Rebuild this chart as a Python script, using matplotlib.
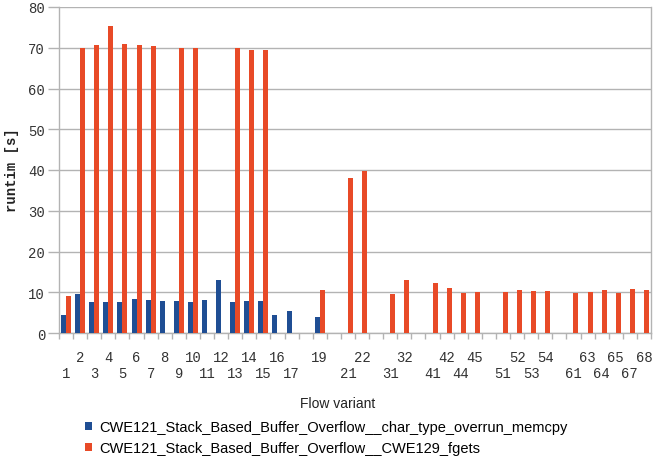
import numpy as np
from matplotlib import pyplot as plt

# flow variants as they appear on the x axis ("" = empty slot)
variants = ["1", "2", "3", "4", "5", "6", "7", "8", "9", "10", "11", "12", "13", "14",
            "15", "16", "17", "", "19", "", "21", "22", "", "31", "32", "", "41", "42",
            "44", "45", "", "51", "52", "53", "54", "", "61", "63", "64", "65", "67", "68"]

nan = np.nan
memcpy = [4.4, 9.6, 7.6, 7.6, 7.6, 8.3, 8.1, 7.9, 7.9, 7.6, 8.1, 13.0, 7.6, 7.9,
          7.9, 4.4, 5.4, nan, 3.9, nan, nan, nan, nan, nan, nan, nan, nan, nan,
          nan, nan, nan, nan, nan, nan, nan, nan, nan, nan, nan, nan, nan, nan]
fgets = [9.1, 70.0, 70.7, 75.3, 70.9, 70.7, 70.4, nan, 69.9, 69.9, nan, nan, 69.9, 69.5,
         69.5, nan, nan, nan, 10.5, nan, 38.0, 39.8, nan, 9.6, 13.0, nan, 12.3, 11.0,
         9.8, 10.1, nan, 10.1, 10.5, 10.3, 10.3, nan, 9.8, 10.1, 10.5, 9.8, 10.8, 10.5]

series_names = ["CWE121_Stack_Based_Buffer_Overflow__char_type_overrun_memcpy",
                "CWE121_Stack_Based_Buffer_Overflow__CWE129_fgets"]

BLUE = "#1f4e94"
RED = "#e84a27"
GRID = "#b3b3b3"
TXT = "#333333"

fig = plt.figure(figsize=(6.53, 4.64), dpi=100)
ax = fig.add_axes([59 / 653, 1 - 334 / 464, 592 / 653, 326 / 464])

x = np.arange(len(variants))
w = 0.355
b1 = ax.bar(x - w / 2, memcpy, width=w, color=BLUE, label=series_names[0], zorder=3)
b2 = ax.bar(x + w / 2, fgets, width=w, color=RED, label=series_names[1], zorder=3)

ax.set_xlim(-0.5, len(variants) - 0.5)
ax.set_ylim(0, 80)
ax.set_yticks(range(0, 81, 10))
ax.yaxis.grid(True, color=GRID, linewidth=1, zorder=0)

# staggered labels: non-empty labels alternate bottom / top row
top_pos, top_lab, bot_pos, bot_lab = [], [], [], []
k = 0
for i, v in enumerate(variants):
    if v == "":
        continue
    if k % 2 == 0:
        bot_pos.append(i)
        bot_lab.append(v)
    else:
        top_pos.append(i)
        top_lab.append(v)
    k += 1

ax.set_xticks(top_pos)
ax.set_xticklabels(top_lab)
ax.set_xticks(bot_pos, minor=True)
ax.set_xticklabels(bot_lab, minor=True)
for t in ax.get_xticklabels(which="both"):
    t.set_family("Liberation Mono")
    t.set_fontsize(10)
    t.set_color(TXT)
ax.tick_params(axis="x", which="major", length=0, pad=12)
ax.tick_params(axis="x", which="minor", length=0, pad=24)

# small tick marks on the category boundaries
sec = ax.secondary_xaxis("bottom")
sec.set_xticks(np.arange(-0.5, len(variants), 1))
sec.set_xticklabels([])
sec.tick_params(length=4, color=GRID, width=1)
sec.spines["bottom"].set_visible(False)

for t in ax.get_yticklabels():
    t.set_family("Liberation Mono")
    t.set_fontsize(10)
    t.set_color(TXT)
ax.tick_params(axis="y", length=8, color=GRID, width=1, pad=2)

for side in ["left", "bottom", "right", "top"]:
    ax.spines[side].set_color(GRID)
    ax.spines[side].set_linewidth(1)
ax.spines["top"].set_visible(False)

fig.text(12 / 653, 1 - 170 / 464, "runtim [s]", rotation=90, ha="center", va="center",
         family="Liberation Mono", fontweight="bold", fontsize=10, color="#222222")
fig.text(338 / 653, 1 - 404 / 464, "Flow variant", ha="center", va="center",
         family="Liberation Sans", fontsize=10, color="#222222")

fig.legend(handles=[b1, b2], loc="upper left", bbox_to_anchor=(85 / 653, 1 - 421 / 464),
           frameon=False, prop={"family": "Liberation Sans", "size": 10.5},
           handlelength=0.5, handleheight=0.5, handletextpad=0.5, labelspacing=0.5,
           borderaxespad=0, borderpad=0)

fig.savefig("out.png", dpi=100)
